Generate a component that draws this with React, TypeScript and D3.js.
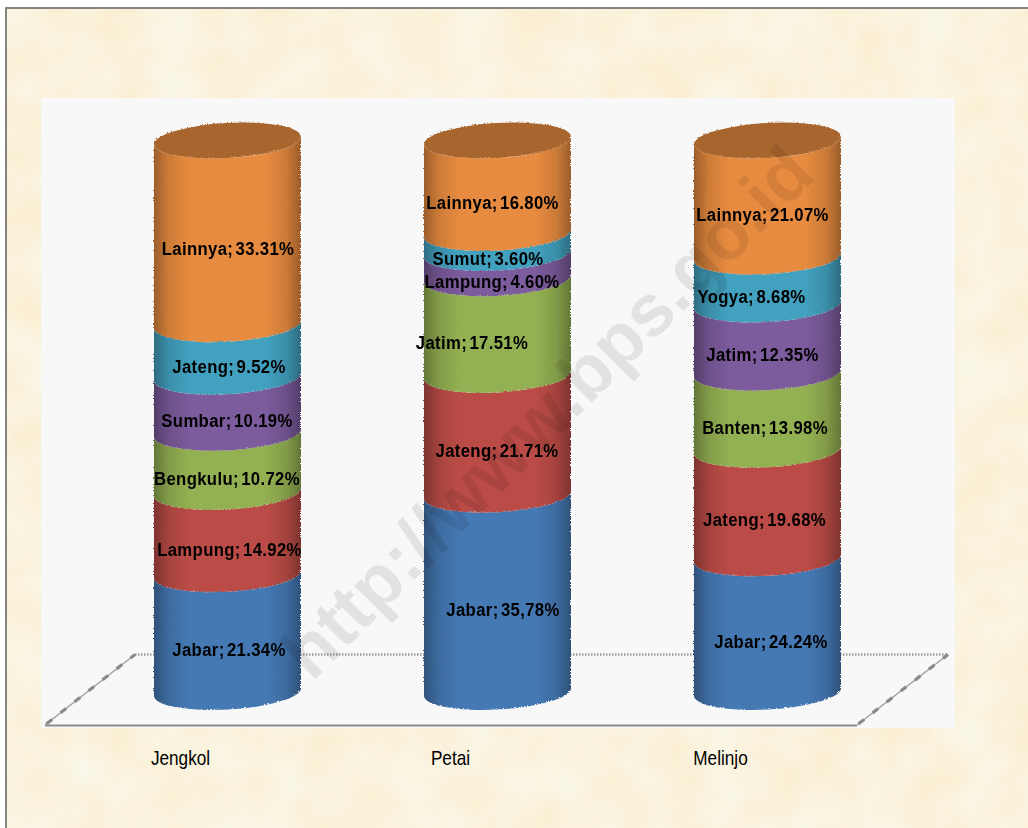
import React from "react";
import * as d3 from "d3";

const categories = ["Jengkol", "Petai", "Melinjo"];

// bottom to top of each cylinder
const jengkolNames = ["Jabar", "Lampung", "Bengkulu", "Sumbar", "Jateng", "Lainnya"];
const jengkolValues = [21.34, 14.92, 10.72, 10.19, 9.52, 33.31];
const petaiNames = ["Jabar", "Jateng", "Jatim", "Lampung", "Sumut", "Lainnya"];
const petaiValues = [35.78, 21.71, 17.51, 4.6, 3.6, 16.8];
const melinjoNames = ["Jabar", "Jateng", "Banten", "Jatim", "Yogya", "Lainnya"];
const melinjoValues = [24.24, 19.68, 13.98, 12.35, 8.68, 21.07];

const names = [jengkolNames, petaiNames, melinjoNames];
const values = [jengkolValues, petaiValues, melinjoValues];
const layerColors = ["#4579b4", "#bb4c46", "#93b052", "#7b5b9c", "#42a1bf", "#e78b3f"];

// labels are not quite centred in the original
const labelNudge = [
  [2.5, 3, 0.5, 0.5, 2.5, 1.5],
  [6.5, 0.5, -24.5, -4.5, -8.5, -4],
  [4.5, -2, -1.5, -4, -15, -4],
];

const WIDTH = 1028;
const HEIGHT = 828;
const RX = 73.5;
const RY = 17.5;
const TILT = 4; // right side of the ellipses sits higher than the left
const TILT_DEG = (Math.atan2(TILT, RX) * 180) / Math.PI;
const LABEL_DROP = 17;
const FONT = "'Liberation Sans', Arial, sans-serif";

const x = d3.scalePoint<string>().domain(categories).range([226.5, 766.5]);
const y = d3.scaleLinear().domain([0, 100]).range([691, 139.5]);

const rows = categories.map((_, c) => d3.range(6).reduce((row: any, k) => ({ ...row, [k]: values[c][k] }), {}));
const stacked = d3.stack<any, any>().keys(d3.range(6))(rows);

const formatValue = (v: number) => (v === 35.78 ? "35,78" : v.toFixed(2)); // comma is in the source

function segmentPath(cx: number, lo: number, hi: number) {
  const t = y(hi);
  const b = y(lo);
  const p = d3.path();
  p.moveTo(cx - RX, t + TILT);
  const top = `A${RX},${RY} ${-TILT_DEG} 0 0 ${cx + RX},${t - TILT}`;
  const bottom = `A${RX},${RY} ${-TILT_DEG} 0 1 ${cx - RX},${b + TILT}`;
  return `${p.toString()}${top}L${cx + RX},${b - TILT}${bottom}Z`;
}

function shade(color: string, k: number) {
  return d3.color(color)!.darker(k).formatHex();
}

export default function App() {
  return (
    <svg
      width={WIDTH}
      height={HEIGHT}
      viewBox={`0 0 ${WIDTH} ${HEIGHT}`}
      style={{ position: "absolute", left: 0, top: 0, fontFamily: FONT }}
    >
      <defs>
        <filter id="parchment" x="0" y="0" width="100%" height="100%" colorInterpolationFilters="sRGB">
          <feTurbulence type="fractalNoise" baseFrequency="0.02" numOctaves={3} seed={4} />
          <feColorMatrix
            type="matrix"
            values="0 0 0 0 0.98
                    0.05 0 0 0 0.925
                    0.13 0 0 0 0.80
                    0 0 0 0 1"
          />
        </filter>
        <filter id="rough" x="-5%" y="-5%" width="110%" height="110%">
          <feTurbulence type="turbulence" baseFrequency="0.7" numOctaves={1} seed={2} result="n" />
          <feDisplacementMap in="SourceGraphic" in2="n" scale={2.5} />
        </filter>
        {layerColors.map((c, i) => (
          <linearGradient key={c} id={`layer${i}`} x1="0" x2="1" y1="0" y2="0">
            <stop offset="0" stopColor={shade(c, 1.1)} />
            <stop offset="0.1" stopColor={shade(c, 0.35)} />
            <stop offset="0.24" stopColor={c} />
            <stop offset="0.76" stopColor={c} />
            <stop offset="0.9" stopColor={shade(c, 0.35)} />
            <stop offset="1" stopColor={shade(c, 1.1)} />
          </linearGradient>
        ))}
      </defs>

      <rect width={WIDTH} height={HEIGHT} fill="#ffffff" />
      <rect x={6} y={8} width={WIDTH} height={HEIGHT} fill="#faf2dc" filter="url(#parchment)" />
      <path d={`M6,${HEIGHT}V8H${WIDTH}`} fill="none" stroke="#85857e" strokeWidth={2} />

      <rect x={41} y={98} width={914} height={630} fill="#f8f8f8" />

      <g fill="none">
        <line x1={135} x2={948} y1={654.5} y2={654.5} stroke="#9c9c9c" strokeWidth={2.4} strokeDasharray="1.5 1.5" />
        <line x1={45} x2={857} y1={725.5} y2={725.5} stroke="#8c8c8c" strokeWidth={1.8} />
        {[[45, 135], [857, 948]].map(([a, b]) => (
          <g key={a}>
            <line x1={a} x2={b} y1={725} y2={654.5} stroke="#a0a0a0" strokeWidth={1.5} />
            <line x1={a} x2={b} y1={725} y2={654.5} stroke="#8a8a8a" strokeWidth={3.2} strokeDasharray="7 10.8" strokeDashoffset={-2} />
          </g>
        ))}
      </g>

      <g filter="url(#rough)">
        {categories.map((cat, c) => {
          const cx = x(cat)!;
          return (
            <g key={cat}>
              {stacked.map((layer, k) => (
                <path key={k} d={segmentPath(cx, layer[c][0], layer[c][1])} fill={`url(#layer${k})`} />
              ))}
              <ellipse
                cx={cx}
                cy={y(100)}
                rx={RX}
                ry={RY}
                fill="#a8652f"
                transform={`rotate(${-TILT_DEG} ${cx} ${y(100)})`}
              />
            </g>
          );
        })}
      </g>

      <text
        x={547}
        y={437}
        textAnchor="middle"
        fontSize={73}
        fontWeight="bold"
        fill="#000000"
        fillOpacity={0.085}
        transform="rotate(-45 547 412)"
      >
        http://www.bps.go.id
      </text>

      {categories.map((cat, c) =>
        stacked.map((layer, k) => (
          <text
            key={`${cat}${k}`}
            transform={`translate(${x(cat)! + labelNudge[c][k]},${y((layer[c][0] + layer[c][1]) / 2) + LABEL_DROP}) scale(0.88,1)`}
            textAnchor="middle"
            dominantBaseline="central"
            fontSize={19}
            fontWeight="bold"
            letterSpacing={0.4}
            wordSpacing={-3}
            fill="#000000"
          >
            {`${names[c][k]}; ${formatValue(values[c][k])}%`}
          </text>
        ))
      )}

      {categories.map((cat) => (
        <text
          key={cat}
          transform={`translate(${x(cat)! - 46},765) scale(0.86,1)`}
          textAnchor="middle"
          fontSize={20}
          fill="#000000"
        >
          {cat}
        </text>
      ))}
    </svg>
  );
}
